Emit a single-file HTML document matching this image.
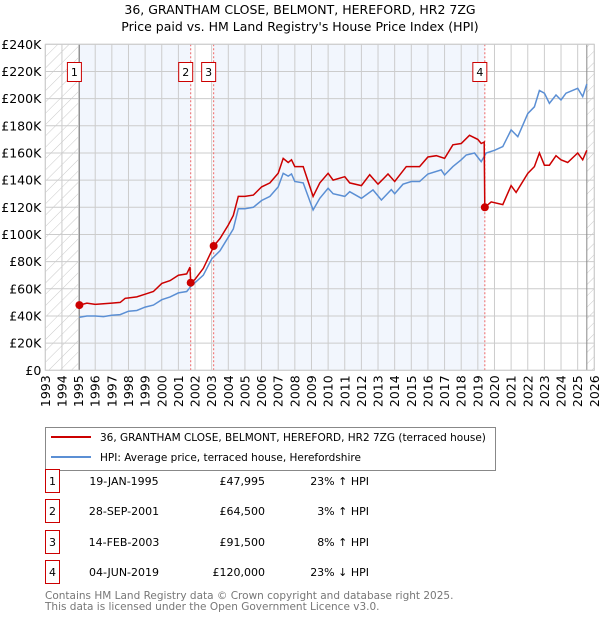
<!DOCTYPE html>
<html><head><meta charset="utf-8"><style>
body{margin:0;background:#fff;font-family:"Liberation Sans","DejaVu Sans",sans-serif;}
svg text{font-family:"DejaVu Sans","Liberation Sans",sans-serif;}
</style></head><body>
<svg id="chart" width="600" height="620" xmlns="http://www.w3.org/2000/svg">
<defs>
<pattern id="hatch" patternUnits="userSpaceOnUse" width="8" height="8" patternTransform="rotate(45)">
<line x1="0" y1="0" x2="0" y2="8" stroke="#bbb" stroke-width="0.8"/></pattern>
</defs>
<text x="300" y="14" text-anchor="middle" font-size="12.5">36, GRANTHAM CLOSE, BELMONT, HEREFORD, HR2 7ZG</text>
<text x="300" y="31" text-anchor="middle" font-size="12.5">Price paid vs. HM Land Registry's House Price Index (HPI)</text>
<g id="plot"></g>
<g>
<rect x="45.5" y="427.5" width="450" height="43" fill="#fff" stroke="#888"/>
<line x1="51" y1="437" x2="91" y2="437" stroke="#cc0000" stroke-width="2"/>
<text x="100" y="441" font-size="10.5">36, GRANTHAM CLOSE, BELMONT, HEREFORD, HR2 7ZG (terraced house)</text>
<line x1="51" y1="457" x2="91" y2="457" stroke="#5b8fd4" stroke-width="2"/>
<text x="100" y="461" font-size="10.5">HPI: Average price, terraced house, Herefordshire</text>
</g>
<g id="table" font-size="11"></g>
<text x="45" y="599" font-size="10.5" fill="#777">Contains HM Land Registry data © Crown copyright and database right 2025.</text>
<text x="45" y="610" font-size="10.5" fill="#777">This data is licensed under the Open Government Licence v3.0.</text>
</svg>
<script>
const hpiDates=[1995.05,1995.5,1996,1996.5,1997,1997.5,1998,1998.5,1999,1999.5,2000,2000.5,2001,2001.5,2001.74,2002,2002.5,2003,2003.5,2004,2004.3,2004.6,2005,2005.5,2006,2006.5,2007,2007.3,2007.6,2007.8,2008,2008.5,2009.1,2009.5,2010,2010.3,2011,2011.3,2012,2012.7,2013.2,2013.8,2014,2014.5,2015,2015.5,2016,2016.8,2017,2017.5,2018,2018.3,2018.8,2019.2,2019.5,2020,2020.5,2021,2021.4,2022,2022.4,2022.7,2023,2023.3,2023.7,2024,2024.3,2024.5,2025,2025.3,2025.55];
const hpiValues=[39,40,40,39.5,40.5,41,43.5,44,46.5,48,52,54,57,58,61.6,64.5,70,82,88,98,104,119,119,120,125,128,135,145,143,144.5,139,138,118,126.6,134,130,128,131.5,126.6,132.8,125.4,133,130,137,139,139,144.5,147.5,143.8,150,155,158.5,160,153.6,160,162,164.7,177,172,189,194,206,204,196.6,202.7,199,204,205,207.6,201.5,210.8];
const redDates=[1995.05,1995.5,1996,1996.5,1997,1997.5,1997.8,1998.5,1999,1999.5,2000,2000.5,2001,2001.5,2001.7,2001.74,2002,2002.5,2003,2003.12,2003.5,2004,2004.3,2004.6,2005,2005.5,2006,2006.5,2007,2007.3,2007.6,2007.8,2008,2008.5,2009.1,2009.5,2010,2010.3,2011,2011.3,2012,2012.5,2013,2013.6,2014,2014.7,2015.5,2016,2016.5,2017,2017.5,2018,2018.5,2019,2019.2,2019.38,2019.42,2019.8,2020.5,2021,2021.3,2022,2022.4,2022.7,2023,2023.3,2023.7,2024,2024.4,2025,2025.3,2025.55];
const redValues=[48,49.5,48.5,49,49.5,50,53,54,56,58,64,66,70,71,76,64.5,67,75,88,91.5,97,107,114,128,128,129,135,138,145,156,153,155,150,150,128,138,145,140,142.5,138,136,144,137,144.5,139,150,150,157,158,156,166,167,173,170,167,168,120,124,122,136,131,145,150,160,151,151,158,155,153,160,155,162];
const saleDates=[1995.05,2001.74,2003.12,2019.42];
const salePrices=[47.995,64.5,91.5,120];
const saleLabels=['1','2','3','4'];
const saleDateText=['19-JAN-1995','28-SEP-2001','14-FEB-2003','04-JUN-2019'];
const salePriceText=['£47,995','£64,500','£91,500','£120,000'];
const saleHpiText=['23% ↑ HPI','3% ↑ HPI','8% ↑ HPI','23% ↓ HPI'];
const yTicks=[0,20,40,60,80,100,120,140,160,180,200,220,240];
const yTickLabels=['£0','£20K','£40K','£60K','£80K','£100K','£120K','£140K','£160K','£180K','£200K','£220K','£240K'];
const xYears=[];for(let y=1993;y<=2026;y++)xYears.push(y);

const NS='http://www.w3.org/2000/svg';
const X0=45.3,X1=594.3,Y0=370.3,Y1=44.3;
const sx=y=>X0+(y-1993)/(2026-1993)*(X1-X0);
const sy=v=>Y0-v/240*(Y0-Y1);
const plot=document.getElementById('plot');
function mk(tag,attrs,parent){const e=document.createElementNS(NS,tag);for(const k in attrs)e.setAttribute(k,attrs[k]);(parent||plot).appendChild(e);return e;}

let e;
e=mk('rect',{x:sx(saleDates[0]),y:Y1,width:sx(saleDates[1])-sx(saleDates[0]),height:Y0-Y1,fill:'#eef3fc',opacity:0.75});


e=mk('rect',{x:sx(saleDates[2]),y:Y1,width:sx(saleDates[3])-sx(saleDates[2]),height:Y0-Y1,fill:'#eef3fc',opacity:0.75});


e=mk('rect',{x:X0,y:Y1,width:sx(saleDates[0])-X0,height:Y0-Y1,fill:'url(#hatch)'});


e=mk('rect',{x:sx(2025.55),y:Y1,width:X1-sx(2025.55),height:Y0-Y1,fill:'url(#hatch)'});



yTicks.forEach((v,i)=>{
  e=mk('line',{x1:X0,x2:X1,y1:sy(v),y2:sy(v),stroke:'#ccc','stroke-width':1});
  
  
  e=mk('text',{x:X0-4,y:sy(v)+4.5,'text-anchor':'end','font-size':'12.5'});
  e.textContent=yTickLabels[i];
  
  
});
xYears.forEach(y=>{
  e=mk('line',{x1:sx(y),x2:sx(y),y1:Y1,y2:Y0,stroke:'#ccc','stroke-width':1});
  
  
  e=mk('text',{x:0,y:0,'text-anchor':'end','font-size':'12.5',transform:`translate(${sx(y)+4.5},${Y0+5}) rotate(-90)`});
  e.textContent=y;
  
  
});
e=mk('line',{x1:sx(saleDates[0]),x2:sx(saleDates[0]),y1:Y1,y2:Y0,stroke:'#888','stroke-width':1});


e=mk('line',{x1:sx(2025.55),x2:sx(2025.55),y1:Y1,y2:Y0,stroke:'#888','stroke-width':1});


saleDates.slice(1).forEach(d=>{
  e=mk('line',{x1:sx(d),x2:sx(d),y1:Y1,y2:Y0,stroke:'#e66','stroke-width':1,'stroke-dasharray':'2,2'});
  
  
});
e=mk('path',{d:hpiDates.map((d,i)=>(i?'L':'M')+sx(d).toFixed(1)+','+sy(hpiValues[i]).toFixed(1)).join(''),fill:'none',stroke:'#5b8fd4','stroke-width':1.5});


e=mk('path',{d:redDates.map((d,i)=>(i?'L':'M')+sx(d).toFixed(1)+','+sy(redValues[i]).toFixed(1)).join(''),fill:'none',stroke:'#cc0000','stroke-width':1.5});


saleDates.forEach((d,i)=>{
  e=mk('circle',{cx:sx(d),cy:sy(salePrices[i]),r:4,fill:'#cc0000'});
  
  
  e=mk('rect',{x:sx(d)-12,y:62.5,width:14,height:19,fill:'#fff',stroke:'#cc0000'});
  
  
  e=mk('text',{x:sx(d)-5,y:76,'text-anchor':'middle','font-size':'11'});
  e.textContent=saleLabels[i];
  
  
});
e=mk('rect',{x:X0,y:Y1,width:X1-X0,height:Y0-Y1,fill:'none',stroke:'#ccc'});



const tbl=document.getElementById('table');
const rowY=[483,513,544,574];
saleLabels.forEach((l,i)=>{
  const y=rowY[i];
  e=mk('rect',{x:45.5,y:y-13.5,width:14,height:23,fill:'#fff',stroke:'#cc0000'},tbl);
  
  
  e=mk('text',{x:52.5,y:y+2,'text-anchor':'middle'},tbl);e.textContent=l;
  
  
  e=mk('text',{x:124,y:y+2,'text-anchor':'middle'},tbl);e.textContent=saleDateText[i];
  
  
  e=mk('text',{x:265,y:y+2,'text-anchor':'end'},tbl);e.textContent=salePriceText[i];
  
  
  e=mk('text',{x:369,y:y+2,'text-anchor':'end'},tbl);e.textContent=saleHpiText[i];
  
  
});
</script>
</body></html>
